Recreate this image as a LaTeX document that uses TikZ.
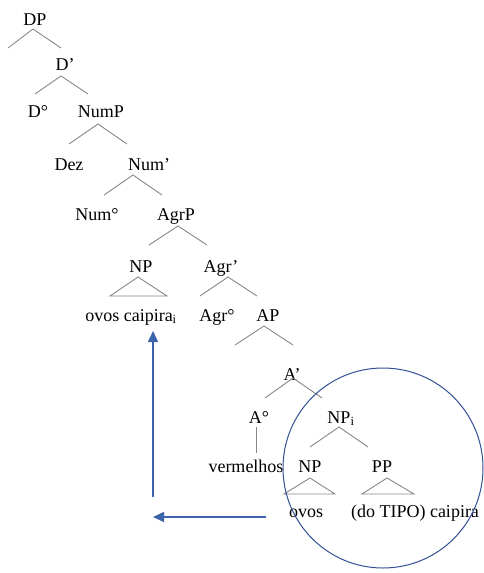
\documentclass[tikz,border=0pt]{standalone}
\usepackage{fontspec}
\setmainfont{Liberation Serif}
\usetikzlibrary{arrows.meta}
\definecolor{branchgray}{RGB}{135,135,135}
\definecolor{arrowblue}{RGB}{60,100,170}
\definecolor{circblue}{RGB}{50,80,150}
\begin{document}
\begin{tikzpicture}[x=1pt,y=-1pt,
  lab/.style={anchor=base,inner sep=0pt,font=\fontsize{18}{20}\selectfont},
  branch/.style={draw=branchgray,line width=0.9pt},
  mover/.style={draw=arrowblue,line width=1.4pt,-{Triangle[length=11pt,width=10pt]}}]
\useasboundingbox (0,0) rectangle (483,573);
% labels
\node[lab] (DP) at (35,25) {DP};
\node[lab] (Dbar) at (65,70) {D’};
\node[lab] (D0) at (38,117) {D°};
\node[lab] (NumP) at (101,117) {NumP};
\node[lab] (Dez) at (69,170) {Dez};
\node[lab] (Numbar) at (149,170) {Num’};
\node[lab] (Num0) at (97,220) {Num°};
\node[lab] (AgrP) at (176,220) {AgrP};
\node[lab] (NPa) at (141,272) {NP};
\node[lab] (Agrbar) at (221,272) {Agr’};
\node[lab] (ovoscaipira) at (131,321) {ovos caipira\textsubscript{i}};
\node[lab] (Agr0) at (217,321) {Agr°};
\node[lab] (AP) at (268,321) {AP};
\node[lab] (Abar) at (292,380) {A’};
\node[lab] (A0) at (259,423) {A°};
\node[lab] (NPi) at (341,423) {NP\textsubscript{i}};
\node[lab] (vermelhos) at (246,472) {vermelhos};
\node[lab] (NPb) at (310,472) {NP};
\node[lab] (PP) at (382,472) {PP};
\node[lab] (ovos) at (306,517) {ovos};
\node[lab] (dotipo) at (415,517) {(do TIPO) caipira};
% branch points
\coordinate (a1) at (33,29);  \coordinate (l1) at (8,48);   \coordinate (r1) at (61,48);
\coordinate (a2) at (61,76);  \coordinate (l2) at (35,94);  \coordinate (r2) at (88,94);
\coordinate (a3) at (98,124); \coordinate (l3) at (69,144); \coordinate (r3) at (127,144);
\coordinate (a4) at (133,175);\coordinate (l4) at (104,195);\coordinate (r4) at (162,195);
\coordinate (a5) at (178,226);\coordinate (l5) at (149,245);\coordinate (r5) at (207,245);
\coordinate (a6) at (138,277);\coordinate (l6) at (110,296);\coordinate (r6) at (167,296);
\coordinate (a7) at (228,277);\coordinate (l7) at (200,296);\coordinate (r7) at (257,296);
\coordinate (a8) at (264,326);\coordinate (l8) at (235,345);\coordinate (r8) at (293,345);
\coordinate (a9) at (293,378);\coordinate (l9) at (265,398);\coordinate (r9) at (322,398);
\coordinate (v1) at (256,427);\coordinate (v2) at (256,453);
\coordinate (a10) at (339,427);\coordinate (l10) at (310,447);\coordinate (r10) at (368,447);
\coordinate (a11) at (310,478);\coordinate (l11) at (284,494);\coordinate (r11) at (335,494);
\coordinate (a12) at (387,478);\coordinate (l12) at (362,494);\coordinate (r12) at (414,494);
\draw[branch] (l1) -- (a1) -- (r1);
\draw[branch] (l2) -- (a2) -- (r2);
\draw[branch] (l3) -- (a3) -- (r3);
\draw[branch] (l4) -- (a4) -- (r4);
\draw[branch] (l5) -- (a5) -- (r5);
\draw[branch] (l6) -- (a6) -- (r6) -- cycle;
\draw[branch] (l7) -- (a7) -- (r7);
\draw[branch] (l8) -- (a8) -- (r8);
\draw[branch] (l9) -- (a9) -- (r9);
\draw[branch] (v1) -- (v2);
\draw[branch] (l10) -- (a10) -- (r10);
\draw[branch] (l11) -- (a11) -- (r11) -- cycle;
\draw[branch] (l12) -- (a12) -- (r12) -- cycle;
% circle
\node[draw=circblue,line width=1pt,circle,minimum size=200pt,inner sep=0pt] (circ) at (383,468) {};
% movement arrows
\coordinate (h1) at (266,517); \coordinate (h2) at (153,517);
\coordinate (u1) at (153,497); \coordinate (u2) at (153,331);
\draw[mover] (h1) -- (h2);
\draw[mover] (u1) -- (u2);
\end{tikzpicture}
\end{document}
